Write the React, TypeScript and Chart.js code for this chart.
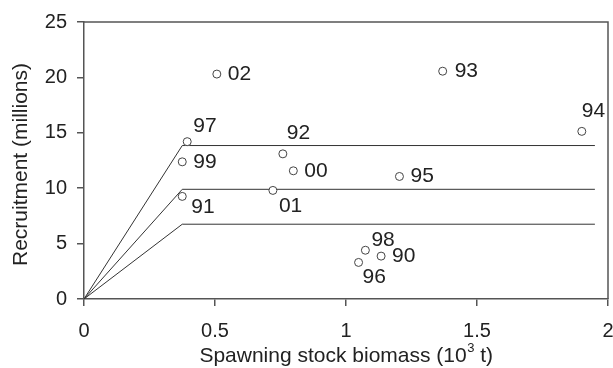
import React, { useEffect, useRef } from "react";
import { Chart, registerables } from "chart.js";
Chart.register(...registerables);

// Year labels (19xx / 20xx) for each stock-recruitment point
const years = ["90", "91", "92", "93", "94", "95", "96", "97", "98", "99", "00", "01", "02"];
// Spawning stock biomass (10^3 t)
const biomass = [1.134, 0.375, 0.759, 1.369, 1.9, 1.204, 1.048, 0.394, 1.074, 0.375, 0.799, 0.721, 0.507];
// Recruitment (millions)
const recruitment = [3.87, 9.26, 13.1, 20.56, 15.13, 11.06, 3.3, 14.2, 4.4, 12.38, 11.57, 9.8, 20.3];

// Hockey-stick reference lines
const refLevels = [13.85, 9.9, 6.75];
const refBreak = [0.375, 0.375, 0.375];
const refEnd = 1.95;

const xTicks = [0, 0.5, 1, 1.5, 2];
const xTickLabels = ["0", "0.5", "1", "1.5", "2"];
const yTicks = [0, 5, 10, 15, 20, 25];
const yTickLabels = ["0", "5", "10", "15", "20", "25"];

// label placement (pixel offsets from point), styling only
const labelOffsets: Record<string, [number, number]> = {
  "90": [11, 0], "91": [9, 11], "92": [4, -21], "93": [12, 0], "94": [0, -20],
  "95": [11, 0], "96": [4, 15], "97": [6, -15], "98": [6, -10], "99": [11, 0],
  "00": [11, 0], "01": [6, 16], "02": [11, 0],
};

const FONT = "'Liberation Sans', Arial, Helvetica, sans-serif";
const AXIS = "#555";
const INK = "#222";

const decorPlugin = {
  id: "decor",
  afterDatasetsDraw(chart: any) {
    const { ctx, chartArea, scales } = chart;
    const xs = scales.x, ys = scales.y;
    ctx.save();
    // box top/right
    ctx.strokeStyle = AXIS;
    ctx.lineWidth = 1.5;
    ctx.beginPath();
    ctx.moveTo(chartArea.left, chartArea.top);
    ctx.lineTo(chartArea.right, chartArea.top);
    ctx.lineTo(chartArea.right, chartArea.bottom);
    ctx.stroke();
    // point labels
    ctx.fillStyle = INK;
    ctx.font = `21px ${FONT}`;
    ctx.textAlign = "left";
    ctx.textBaseline = "middle";
    years.forEach((yr, i) => {
      const px = xs.getPixelForValue(biomass[i]);
      const py = ys.getPixelForValue(recruitment[i]);
      const off = labelOffsets[yr] || [10, 0];
      ctx.fillText(yr, px + off[0], py + off[1]);
    });
    // x title with superscript
    const cx = (chartArea.left + chartArea.right) / 2;
    const base = 362;
    ctx.textBaseline = "alphabetic";
    const p1 = "Spawning stock biomass (10";
    const p2 = "3";
    const p3 = " t)";
    ctx.font = `21px ${FONT}`;
    const w1 = ctx.measureText(p1).width;
    const w3 = ctx.measureText(p3).width;
    ctx.font = `13px ${FONT}`;
    const w2 = ctx.measureText(p2).width;
    const x0 = cx - (w1 + w2 + w3) / 2;
    ctx.font = `21px ${FONT}`;
    ctx.fillText(p1, x0, base);
    ctx.font = `13px ${FONT}`;
    ctx.fillText(p2, x0 + w1 + 0.5, base - 10);
    ctx.font = `21px ${FONT}`;
    ctx.fillText(p3, x0 + w1 + w2 + 0.5, base);
    // y title
    ctx.save();
    ctx.translate(21, (chartArea.top + chartArea.bottom) / 2 + 4);
    ctx.rotate(-Math.PI / 2);
    ctx.textAlign = "center";
    ctx.textBaseline = "middle";
    ctx.font = `21px ${FONT}`;
    ctx.fillText("Recruitment (millions)", 0, 0);
    ctx.restore();
    ctx.restore();
  },
};

export default function App() {
  const ref = useRef<HTMLCanvasElement | null>(null);
  useEffect(() => {
    if (!ref.current) return;
    const lineSets = refLevels.map((lvl, i) => ({
      type: "line" as const,
      data: [
        { x: 0, y: 0 },
        { x: refBreak[i], y: lvl },
        { x: refEnd, y: lvl },
      ],
      borderColor: "#333",
      borderWidth: 1,
      pointRadius: 0,
      fill: false,
      tension: 0,
      order: 2,
    }));
    const chart = new Chart(ref.current, {
      type: "scatter",
      data: {
        datasets: [
          ...lineSets,
          {
            type: "scatter" as const,
            data: biomass.map((b, i) => ({ x: b, y: recruitment[i] })),
            pointRadius: 4,
            pointBorderWidth: 1,
            pointBorderColor: "#444",
            pointBackgroundColor: "#fff",
            order: 1,
          },
        ] as any,
      },
      options: {
        animation: false,
        responsive: false,
        events: [],
        layout: { padding: { top: 21, right: 4, left: 0, bottom: 0 } },
        plugins: { legend: { display: false }, tooltip: { enabled: false }, title: { display: false } },
        scales: {
          x: {
            type: "linear",
            min: xTicks[0],
            max: xTicks[xTicks.length - 1],
            afterBuildTicks: (s: any) => { s.ticks = xTicks.map((v) => ({ value: v })); },
            afterFit: (s: any) => { s.height = 69; s.paddingLeft = 0; s.paddingRight = 0; },
            ticks: {
              color: INK, font: { family: FONT, size: 20 }, padding: 13, maxRotation: 0, autoSkip: false,
              callback: (_v: any, i: number) => xTickLabels[i],
            },
            grid: { display: true, drawOnChartArea: false, drawTicks: true, tickLength: 7, color: AXIS, lineWidth: 1.5 },
            border: { display: true, color: AXIS, width: 1.5 },
          },
          y: {
            type: "linear",
            min: yTicks[0],
            max: yTicks[yTicks.length - 1],
            afterBuildTicks: (s: any) => { s.ticks = yTicks.map((v) => ({ value: v })); },
            afterFit: (s: any) => { s.width = 84; },
            ticks: {
              color: INK, font: { family: FONT, size: 20 }, padding: 10, autoSkip: false,
              callback: (_v: any, i: number) => yTickLabels[i],
            },
            grid: { display: true, drawOnChartArea: false, drawTicks: true, tickLength: 7, color: AXIS, lineWidth: 1.5 },
            border: { display: true, color: AXIS, width: 1.5 },
          },
        },
      } as any,
      plugins: [decorPlugin],
    });
    return () => chart.destroy();
  }, []);
  return (
    <div style={{ position: "absolute", left: 0, top: 0, width: 613, height: 368, background: "#fff" }}>
      <canvas ref={ref} width={613} height={368} style={{ display: "block" }} />
    </div>
  );
}
